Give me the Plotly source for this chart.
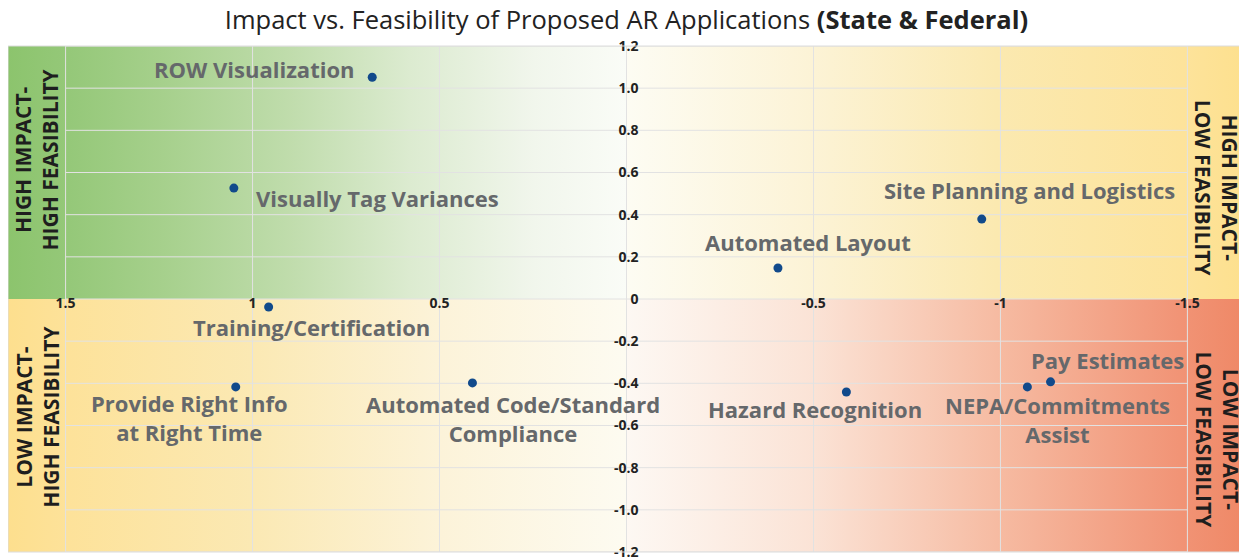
import plotly.graph_objects as go

# ---------------- data ----------------
labels = ["ROW Visualization", "Visually Tag Variances", "Site Planning and Logistics",
          "Automated Layout", "Training/Certification", "Provide Right Info<br>at Right Time",
          "Automated Code/Standard<br>Compliance", "Hazard Recognition",
          "NEPA/Commitments<br>Assist", "Pay Estimates"]
feasibility = [0.68, 1.05, -0.95, -0.405, 0.957, 1.045, 0.412, -0.588, -1.072, -1.134]
impact = [1.052, 0.526, 0.379, 0.147, -0.038, -0.417, -0.398, -0.441, -0.417, -0.393]

x_ticks = [1.5, 1, 0.5, 0, -0.5, -1, -1.5]
x_ticktext = ["1.5", "1", "0.5", "", "-0.5", "-1", "-1.5"]
y_ticks = [-1.2, -1.0, -0.8, -0.6, -0.4, -0.2, 0, 0.2, 0.4, 0.6, 0.8, 1.0, 1.2]
y_ticktext = ["-1.2", "-1.0", "-0.8", "-0.6", "-0.4", "-0.2", "0", "0.2", "0.4", "0.6", "0.8", "1.0", "1.2"]

quadrant_names = ["HIGH IMPACT-<br>HIGH FEASIBILITY", "HIGH IMPACT-<br>LOW FEASIBILITY",
                  "LOW IMPACT-<br>HIGH FEASIBILITY", "LOW IMPACT-<br>LOW FEASIBILITY"]

# ---------------- style ----------------
XR = 1.654   # outer extent including side bars
YR = 1.2
label_offsets = [(-15, 8, "right"), (20, -10, "left"), (48, 29, "center"), (30, 26, "center"),
                 (43, -20, "center"), (-46, -31, "center"), (41, -36, "center"),
                 (-31, -17, "center"), (30, -33, "center"), (57, 22, "center")]

green = [[0, "#fafcf7"], [0.15, "#f1f6ec"], [0.35, "#dcebd0"], [0.55, "#bfdcab"],
         [0.75, "#a6d08c"], [0.9, "#95c879"], [1, "#8cc46d"]]
yellow_tr = [[0, "#fdfcf3"], [0.3, "#fcf3d6"], [0.6, "#fbe9b0"], [0.9, "#fde39b"], [1, "#fde08e"]]
yellow_bl = [[0, "#fdfbf1"], [0.3, "#fcf3d9"], [0.6, "#fbe9b4"], [0.9, "#fde29a"], [1, "#fddf8e"]]
orange = [[0, "#fdf8f3"], [0.3, "#fbe3d6"], [0.6, "#f6bba2"], [0.9, "#f19375"], [1, "#ef8866"]]

fig = go.Figure()

quads = [
    (1, 1, green),
    (-1, 1, yellow_tr),
    (1, -1, yellow_bl),
    (-1, -1, orange),
]
for sx, sy, cs in quads:
    fig.add_trace(go.Scatter(
        x=[0, sx * XR, sx * XR, 0, 0], y=[0, 0, sy * YR, sy * YR, 0],
        fill="toself", mode="lines", line=dict(width=0),
        fillgradient=dict(type="horizontal", colorscale=cs, start=0, stop=sx * XR),
        hoverinfo="skip", showlegend=False))

# gridlines drawn from the tick arrays, above the gradient fills
gx, gy = [], []
for yv in y_ticks:
    gx += [x_ticks[0], x_ticks[-1], None]
    gy += [yv, yv, None]
for xv in x_ticks:
    gx += [xv, xv, None]
    gy += [y_ticks[0], y_ticks[-1], None]
fig.add_trace(go.Scatter(x=gx, y=gy, mode="lines", line=dict(color="#e2e2e2", width=1),
                         hoverinfo="skip", showlegend=False))

fig.add_trace(go.Scatter(x=feasibility, y=impact, mode="markers",
                         marker=dict(color="#114a8b", size=9), showlegend=False))

lab_font = dict(family="Open Sans", size=22, color="#65686b", weight="bold")
for lab, xv, yv, (dx, dy, anc) in zip(labels, feasibility, impact, label_offsets):
    fig.add_annotation(x=xv, y=yv, text=lab, showarrow=False, xshift=dx, yshift=dy,
                       xanchor=anc, yanchor="middle", font=lab_font, align="center")

side_font = dict(family="Open Sans", size=21, color="#1e1e1e", weight="bold")
side_pos = [(1.5775, 0.66, -90), (-1.58, 0.526, 90), (1.5775, -0.56, -90), (-1.58, -0.668, 90)]
for name, (xv, yv, ang) in zip(quadrant_names, side_pos):
    fig.add_annotation(x=xv, y=yv, text=name, showarrow=False, textangle=ang,
                       xanchor="center", yanchor="middle", font=side_font, align="center")

fig.add_shape(type="rect", xref="paper", yref="paper", x0=0, x1=1, y0=0, y1=1,
              line=dict(color="#dcdcdc", width=1), layer="above")

tick_font = dict(family="Open Sans", size=14, color="#222222", weight="bold")
fig.update_layout(
    width=1247, height=560,
    margin=dict(l=0, r=10, t=38, b=16),
    paper_bgcolor="white", plot_bgcolor="white",
    title=dict(text="Impact vs. Feasibility of Proposed AR Applications <b>(State & Federal)</b>",
               x=0.5, xanchor="center", xref="paper", y=1 - 12 / 560, yanchor="middle",
               yref="container", font=dict(family="Open Sans", size=25.5, color="#222222")),
    xaxis=dict(range=[XR, -XR], showgrid=False, zeroline=False, showline=False,
               tickvals=x_ticks, ticktext=x_ticktext, tickfont=tick_font, ticks="",
               anchor="free", position=0.5, ticklabelstandoff=-6, fixedrange=True),
    yaxis=dict(range=[-YR, YR], showgrid=False, zeroline=False, showline=False,
               tickvals=y_ticks, ticktext=y_ticktext, tickfont=tick_font, ticks="",
               anchor="free", position=0.5, ticklabelstandoff=-12, fixedrange=True),
    showlegend=False,
)

fig.write_html("out.html")
